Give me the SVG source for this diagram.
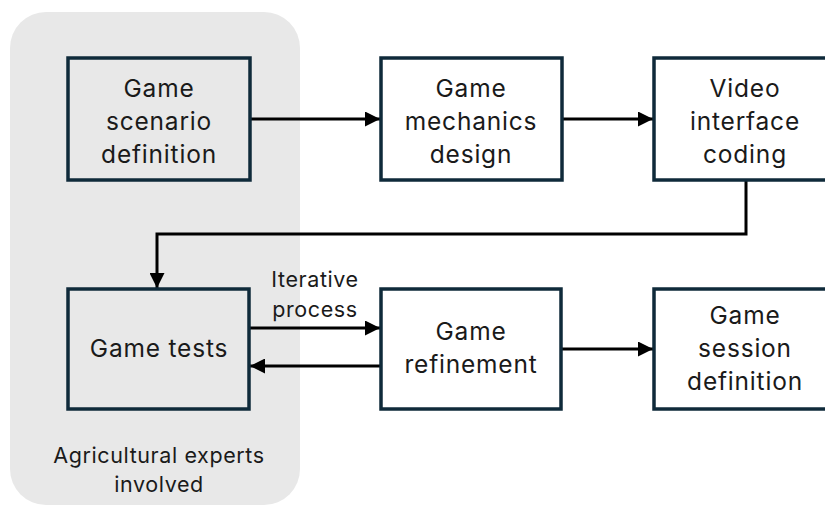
<svg xmlns="http://www.w3.org/2000/svg" width="825" height="507" viewBox="0 0 825 507">
  <defs>
    <marker id="ah" markerWidth="5" markerHeight="5" refX="5" refY="2.5" orient="auto" markerUnits="strokeWidth">
      <path d="M0,0 L5,2.5 L0,5 Z" fill="#000"/>
    </marker>
    <style>
      .box { stroke: #0f2a3a; stroke-width: 3.5; }
      .lbl { font-family: Inter, "Noto Sans", "Liberation Sans", sans-serif; font-size: 24.5px; letter-spacing: 0.8px; fill: #1a1a1a; text-anchor: middle; }
      .sm { font-family: Inter, "Noto Sans", "Liberation Sans", sans-serif; font-size: 21.5px; letter-spacing: 0.6px; fill: #1a1a1a; text-anchor: middle; }
      .con { stroke: #000; stroke-width: 3; fill: none; marker-end: url(#ah); }
    </style>
  </defs>
  <rect width="825" height="507" fill="#fff"/>
  <g id="experts-zone">
    <rect x="10" y="12" width="290" height="493" rx="36" fill="#e8e8e8"/>
    <text class="sm" x="159" y="463">Agricultural experts</text>
    <text class="sm" x="159" y="492">involved</text>
  </g>
  <g id="connectors">
    <path class="con" d="M250,119 H380"/>
    <path class="con" d="M562,119 H653"/>
    <path class="con" d="M746,180 V234 H157 V288"/>
    <path class="con" d="M250,328 H380"/>
    <path class="con" d="M380,366 H250"/>
    <path class="con" d="M561,349 H653"/>
    <text class="sm" x="315" y="287">Iterative</text>
    <text class="sm" x="315" y="317">process</text>
  </g>
  <g id="n1">
    <rect class="box" x="68" y="58" width="182" height="122" fill="#e8e8e8"/>
    <text class="lbl" x="159" y="97">Game</text>
    <text class="lbl" x="159" y="130">scenario</text>
    <text class="lbl" x="159" y="163">definition</text>
  </g>
  <g id="n2">
    <rect class="box" x="381" y="58" width="181" height="122" fill="#fff"/>
    <text class="lbl" x="471" y="97">Game</text>
    <text class="lbl" x="471" y="130">mechanics</text>
    <text class="lbl" x="471" y="163">design</text>
  </g>
  <g id="n3">
    <rect class="box" x="654" y="58" width="182" height="122" fill="#fff"/>
    <text class="lbl" x="745" y="97">Video</text>
    <text class="lbl" x="745" y="130">interface</text>
    <text class="lbl" x="745" y="163">coding</text>
  </g>
  <g id="n4">
    <rect class="box" x="68" y="289" width="181" height="120" fill="#e8e8e8"/>
    <text class="lbl" x="159" y="357">Game tests</text>
  </g>
  <g id="n5">
    <rect class="box" x="381" y="289" width="180" height="120" fill="#fff"/>
    <text class="lbl" x="471" y="340">Game</text>
    <text class="lbl" x="471" y="373">refinement</text>
  </g>
  <g id="n6">
    <rect class="box" x="654" y="289" width="182" height="120" fill="#fff"/>
    <text class="lbl" x="745" y="324">Game</text>
    <text class="lbl" x="745" y="357">session</text>
    <text class="lbl" x="745" y="390">definition</text>
  </g>
</svg>
